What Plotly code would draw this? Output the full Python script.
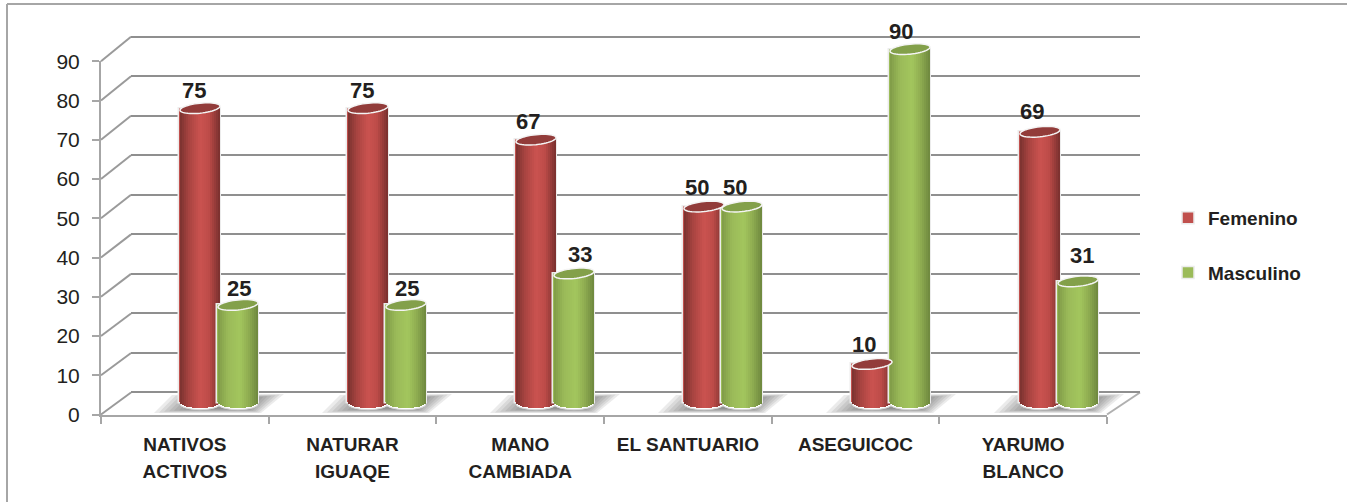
import math
import plotly.graph_objects as go

categories = ["NATIVOS<br>ACTIVOS", "NATURAR<br>IGUAQE", "MANO<br>CAMBIADA", "EL SANTUARIO", "ASEGUICOC", "YARUMO<br>BLANCO"]
femenino = [75, 75, 67, 50, 10, 69]
masculino = [25, 25, 33, 50, 90, 31]
y_ticks = list(range(0, 100, 10))

# label nudges in pixels (kept apart from the values)
fem_shift_x = [-6, -6, -8, -7, -8, -8]
fem_shift_y = [18, 18, 18, 19, 19, 20]
mas_shift_x = [1, 1, 6, -7, -9, 4]
mas_shift_y = [16, 16, 19, 19, 18, 26]

W, H = 1347, 502
FONT = "Liberation Sans, Arial, sans-serif"
NARROW = "Liberation Sans Narrow, Liberation Sans, Arial, sans-serif"
INK = "#231f20"


def px(x):
    return x / W


def py(y):
    return (H - y) / H


def lerp(stops, t):
    for (a, ca), (b, cb) in zip(stops, stops[1:]):
        if t <= b:
            f = (t - a) / (b - a)
            return "rgb(%d,%d,%d)" % tuple(ca[i] + (cb[i] - ca[i]) * f for i in range(3))
    return "rgb(%d,%d,%d)" % stops[-1][1]


RED = [(0, (122, 50, 48)), (0.22, (168, 68, 65)), (0.5, (203, 83, 80)), (0.72, (190, 76, 73)), (1, (120, 48, 46))]
GREEN = [(0, (128, 155, 72)), (0.25, (155, 187, 89)), (0.55, (163, 198, 94)), (0.75, (145, 175, 82)), (1, (110, 135, 63))]

# geometry of the three stacked planes (front axes, back wall, bar plane)
FX0, FX1, FY0, FY90 = 101, 1107, 414.5, 61.3
BX0, BX1, BY0, BY90 = 131, 1140, 392.5, 36.7
CX0, CX1 = 135, 1143
UNIT = 3.935
CY0 = 403.3
Y_LO, Y_HI = -5, 95
B_UNIT = (BY0 - BY90) / 90

STEP = (CX1 - CX0) / 6
HALF = 20 / STEP
OFF = 19 / STEP
EB = 5 / UNIT
TILT = 2.0 / UNIT
N = 20

fig = go.Figure()

# front axes carrier and back wall carrier
fig.add_trace(go.Scatter(x=categories, y=[0] * 6, mode="markers", marker=dict(opacity=0, size=1),
                         showlegend=False, hoverinfo="skip", xaxis="x", yaxis="y"))
fig.add_trace(go.Scatter(x=[0], y=[0], mode="markers", marker=dict(opacity=0, size=1),
                         showlegend=False, hoverinfo="skip", xaxis="x2", yaxis="y2"))

shapes = []
annotations = []


def wall(x, y, x2, y2, color="#9a9a9a", w=2):
    shapes.append(dict(type="line", xref="paper", yref="paper", x0=px(x), y0=py(y), x1=px(x2), y1=py(y2),
                       line=dict(color=color, width=w), layer="below"))


# side wall diagonals
for v in y_ticks:
    fy = FY0 + (FY90 - FY0) * v / 90
    by = BY0 + (BY90 - BY0) * v / 90
    wall(FX0, fy, BX0, by)
wall(FX1, FY0, BX1, BY0, "#b0b0b0")

# floor shadows
for i in range(6):
    c = CX0 + STEP * (i + 0.5)
    outer = [(-65, 413), (-47, 395), (65, 394), (42, 413)]
    inner = [(-30, 409), (-20, 399), (36, 398), (28, 409)]
    for k in range(8):
        f = k / 7
        pts = [(c + a[0] + (b[0] - a[0]) * f, a[1] + (b[1] - a[1]) * f) for a, b in zip(outer, inner)]
        path = "M " + " L ".join("%.5f %.5f" % (px(p[0]), py(p[1])) for p in pts) + " Z"
        shapes.append(dict(type="path", xref="paper", yref="paper", path=path, layer="below",
                           fillcolor="rgba(90,90,90,0.12)", line=dict(width=0)))


def tilted_ellipse(cx, cy):
    pts = []
    for k in range(48):
        a = 2 * math.pi * k / 48
        pts.append((cx + HALF * math.cos(a), cy + EB * math.sin(a) + TILT * math.cos(a)))
    return "M " + " L ".join("%.4f %.4f" % p for p in pts) + " Z"


def add_series(name, values, offset, stops, swatch, top, sx, sy):
    xs = [i + offset for i in range(6)]
    fig.add_trace(go.Bar(x=xs, y=values, width=HALF * 2.08, name=name, legendgroup=name,
                         marker=dict(color=swatch, line=dict(color="#ececec", width=1.5)),
                         xaxis="x3", yaxis="y3", hoverinfo="skip"))
    for s in range(N):
        t = (s + 0.5) / N
        u = 2 * t - 1
        dip = EB * math.sqrt(max(0, 1 - u * u))
        fig.add_trace(go.Bar(x=[x + u * HALF for x in xs],
                             y=[v + TILT * u + dip for v in values],
                             base=[-dip] * 6,
                             width=2 * HALF / N * 1.25,
                             marker=dict(color=lerp(stops, t), line=dict(width=0)),
                             showlegend=False, legendgroup=name, hoverinfo="skip",
                             xaxis="x3", yaxis="y3"))
    for i, v in enumerate(values):
        x = xs[i]
        shapes.append(dict(type="path", xref="x3", yref="y3", path=tilted_ellipse(x, v),
                           fillcolor=top, line=dict(color="#f4f4f4", width=1.5), layer="above"))
        shapes.append(dict(type="circle", xref="x3", yref="y3", x0=x - HALF, x1=x + HALF,
                           y0=-EB - 0.35, y1=EB, fillcolor="#ffffff",
                           line=dict(color="#d8d8d8", width=1), layer="below"))
        annotations.append(dict(xref="x3", yref="y3", x=x, y=v, text="<b>%d</b>" % v, showarrow=False,
                                xanchor="center", yanchor="middle", xshift=sx[i], yshift=sy[i],
                                font=dict(family=NARROW, size=22, color=INK)))


add_series("Femenino", femenino, -OFF, RED, "#c0504d", "#923c3a", fem_shift_x, fem_shift_y)
add_series("Masculino", masculino, OFF, GREEN, "#9bbb59", "#83a04a", mas_shift_x, mas_shift_y)

# picture frame: only the top and left edges are drawn in the source
wall(7, 4, W, 4, "#a6a6a6", 2)
wall(7, 4, 7, H, "#a6a6a6", 2)

tick_text = []
for c in categories:
    tick_text.append("<br>".join('<span style="font-size:19px"><b>%s</b></span>' % p for p in c.split("<br>")))

fig.update_layout(
    width=W, height=H, margin=dict(l=0, r=0, t=0, b=0, autoexpand=False), autosize=False,
    paper_bgcolor="white", plot_bgcolor="rgba(0,0,0,0)",
    barmode="overlay", bargap=0,
    shapes=shapes, annotations=annotations,
    showlegend=True,
    legend=dict(x=px(1168), y=py(199), xanchor="left", yanchor="top", tracegroupgap=27,
                font=dict(family=FONT, size=19, color=INK, weight="bold"), bgcolor="rgba(0,0,0,0)"),
    xaxis=dict(domain=[px(FX0), px(FX1)], type="category", categoryorder="array", categoryarray=categories,
               range=[-0.5, 5.5], tickmode="array", tickvals=categories, ticktext=tick_text, tickson="boundaries",
               ticks="outside", ticklen=7, tickwidth=2, tickcolor="#a6a6a6",
               showline=True, linecolor="#a6a6a6", linewidth=2, showgrid=False, zeroline=False,
               tickfont=dict(family=FONT, size=21, color=INK), ticklabelstandoff=9, anchor="y", tickangle=0),
    yaxis=dict(domain=[py(FY0), py(FY90)], range=[0, 90], tickmode="array", tickvals=y_ticks,
               ticks="outside", ticklen=7, tickwidth=2, tickcolor="#a6a6a6",
               showline=True, linecolor="#a6a6a6", linewidth=2, showgrid=False, zeroline=False,
               tickfont=dict(family=FONT, size=21, color=INK), ticklabelstandoff=8, anchor="x"),
    xaxis2=dict(domain=[px(BX0), px(BX1)], range=[0, 1], visible=False, anchor="y2"),
    # one spare unit each side: Plotly drops grid lines sitting on the range ends
    yaxis2=dict(domain=[py(BY0 + B_UNIT), py(BY90 - B_UNIT)], range=[-1, 91], tickmode="array", tickvals=y_ticks,
                showticklabels=False, ticks="", showgrid=True, gridcolor="#8f8f8f", gridwidth=2.2,
                zeroline=False, showline=False, anchor="x2"),
    xaxis3=dict(domain=[px(CX0), px(CX1)], range=[-0.5, 5.5], visible=False, anchor="y3"),
    yaxis3=dict(domain=[py(CY0 - Y_LO * UNIT), py(CY0 - Y_HI * UNIT)], range=[Y_LO, Y_HI], visible=False, anchor="x3"),
)

fig.write_html("out.html", config={"displayModeBar": False},
               post_script="document.body.style.margin='0';document.body.style.overflow='hidden';")
